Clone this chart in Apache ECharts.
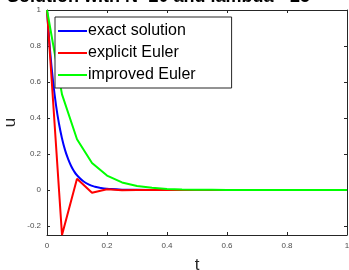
<!DOCTYPE html>
<html>
<head>
<meta charset="utf-8">
<script src="https://cdn.jsdelivr.net/npm/echarts@6/dist/echarts.min.js"></script>
<style>
	html, body { margin: 0; padding: 0; background: #fff; }
	#chart { width: 349px; height: 270px; }
</style>
</head>
<body>
<div id="chart"></div>
<script>
	// step points t = 0:0.05:1
	var tSteps = [0, 0.05, 0.1, 0.15, 0.2, 0.25, 0.3, 0.35, 0.4, 0.45, 0.5,
		0.55, 0.6, 0.65, 0.7, 0.75, 0.8, 0.85, 0.9, 0.95, 1]
	var explicitEuler = [1, -0.25, 0.0625, -0.0156, 0.0039, -0.001, 0.0002, 0, 0, 0, 0,
		0, 0, 0, 0, 0, 0, 0, 0, 0, 0]
	var improvedEuler = [1, 0.531, 0.282, 0.150, 0.080, 0.042, 0.022, 0.012, 0.006, 0.003, 0.002,
		0.001, 0, 0, 0, 0, 0, 0, 0, 0, 0]
	// exact curve, finer sampling
	var tExact = [0, 0.01, 0.02, 0.03, 0.04, 0.05, 0.06, 0.07, 0.08, 0.09, 0.1,
		0.12, 0.14, 0.16, 0.18, 0.2, 0.25, 0.3, 0.4, 0.5, 1]
	var exactSolution = [1, 0.779, 0.607, 0.472, 0.368, 0.287, 0.223, 0.174, 0.135, 0.105, 0.082,
		0.050, 0.030, 0.018, 0.011, 0.007, 0.002, 0.001, 0, 0, 0]
	var yTicks = [-0.2, 0, 0.2, 0.4, 0.6, 0.8, 1]

	function pairs (xs, ys) {
		return xs.map(function (x, i) { return [x, ys[i]] })
	}

	var font = 'Liberation Sans, Arial, sans-serif'
	var axisColor = '#262626'
	var tickFont = { fontSize: 8, color: '#4d4d4d', fontFamily: font }

	var chart = echarts.init(document.getElementById('chart'))
	chart.setOption({
		backgroundColor: '#ffffff',
		animation: false,
		title: {
			text: 'Solution with N=20 and lambda=-25',
			left: 7,
			top: -12,
			padding: 0,
			textStyle: { fontSize: 18, fontWeight: 'bold', color: '#000', fontFamily: font }
		},
		grid: { left: 47, right: 2, top: 10, bottom: 35, outerBoundsMode: 'none', containLabel: false },
		legend: {
			orient: 'vertical',
			left: 55,
			top: 17,
			width: 176,
			padding: [6, 36, 5, 3],
			backgroundColor: '#fff',
			borderColor: axisColor,
			borderWidth: 1,
			borderRadius: 0,
			itemWidth: 29,
			itemHeight: 2,
			itemGap: 6,
			icon: 'rect',
			textStyle: { fontSize: 16, color: '#000', padding: [0, 0, 0, -4], fontFamily: font },
			data: ['exact solution', 'explicit Euler', 'improved Euler']
		},
		xAxis: [
			{
				type: 'value', min: 0, max: 1, interval: 0.2,
				name: 't', nameLocation: 'middle', nameGap: 22,
				nameTextStyle: { fontSize: 17, color: '#262626', fontFamily: font },
				axisLine: { onZero: false, lineStyle: { color: axisColor, width: 1 } },
				axisTick: { inside: true, length: 3, lineStyle: { color: axisColor } },
				axisLabel: Object.assign({ margin: 7, formatter: function (v) { return +v.toFixed(1) + '' } }, tickFont),
				splitLine: { show: false }
			},
			{
				type: 'value', min: 0, max: 1, interval: 0.2, position: 'top',
				axisLine: { show: true, onZero: false, lineStyle: { color: axisColor, width: 1 } },
				axisTick: { inside: true, length: 3, lineStyle: { color: axisColor } },
				axisLabel: { show: false },
				splitLine: { show: false }
			}
		],
		yAxis: [
			{
				type: 'value', min: -0.25, max: 1,
				name: 'u', nameLocation: 'middle', nameGap: 28, nameRotate: 90,
				nameMoveOverlap: false,
				nameTextStyle: { fontSize: 17, color: '#262626', fontFamily: font },
				axisLine: { show: true, onZero: false, lineStyle: { color: axisColor, width: 1 } },
				axisTick: { inside: true, length: 3, lineStyle: { color: axisColor },
					customValues: yTicks },
				axisLabel: Object.assign({ margin: 6, customValues: yTicks,
					formatter: function (v) { return +v.toFixed(1) + '' } }, tickFont),
				splitLine: { show: false }
			},
			{
				type: 'value', min: -0.25, max: 1, position: 'right',
				axisLine: { show: true, onZero: false, lineStyle: { color: axisColor, width: 1 } },
				axisTick: { inside: true, length: 3, lineStyle: { color: axisColor },
					customValues: yTicks },
				axisLabel: { show: false },
				splitLine: { show: false }
			}
		],
		series: [
			{
				name: 'exact solution', type: 'line', showSymbol: false, symbol: 'none',
				data: pairs(tExact, exactSolution), smooth: true,
				color: '#0000ff', lineStyle: { color: '#0000ff', width: 2 }
			},
			{
				name: 'explicit Euler', type: 'line', showSymbol: false, symbol: 'none',
				data: pairs(tSteps, explicitEuler),
				color: '#ff0000', lineStyle: { color: '#ff0000', width: 2 }
			},
			{
				name: 'improved Euler', type: 'line', showSymbol: false, symbol: 'none',
				data: pairs(tSteps, improvedEuler),
				color: '#00ff00', lineStyle: { color: '#00ff00', width: 2 }
			}
		]
	})
</script>
</body>
</html>
